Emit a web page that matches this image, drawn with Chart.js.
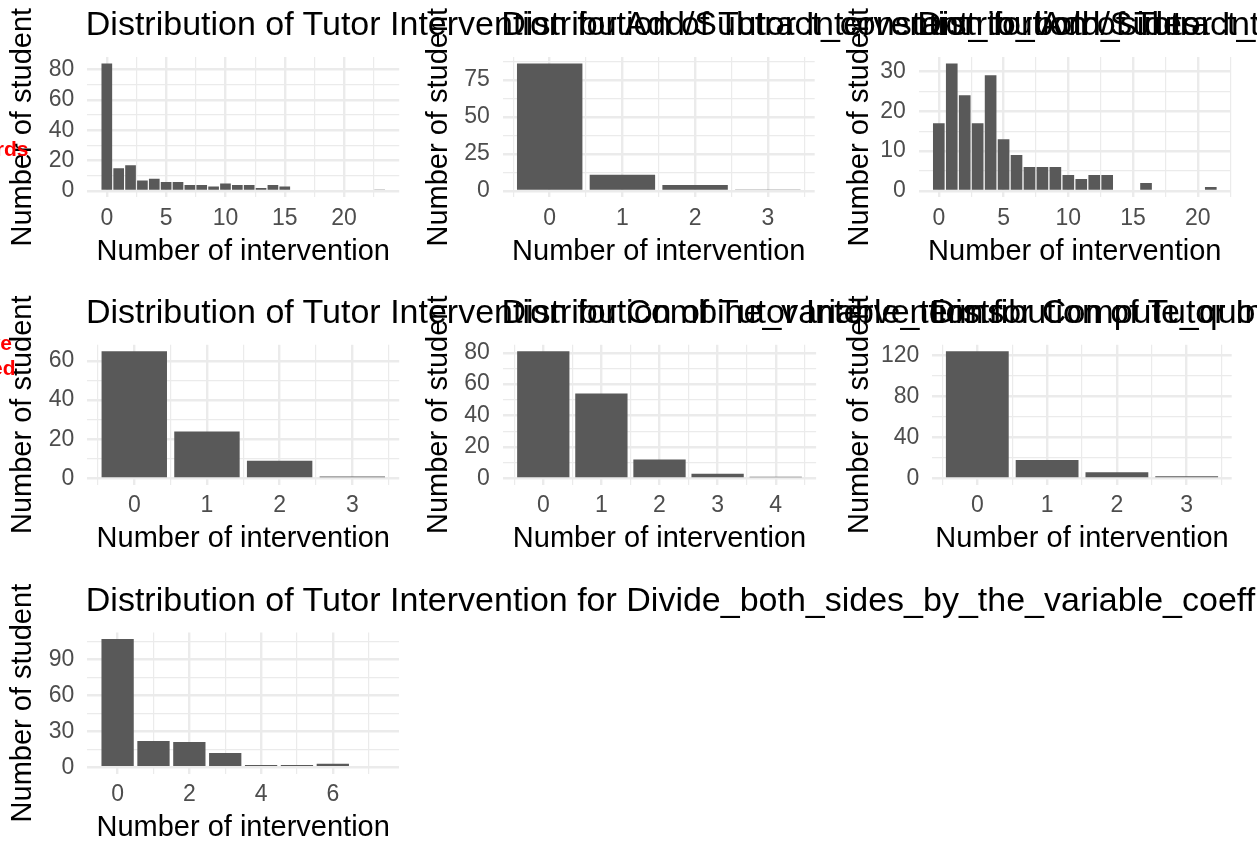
<!DOCTYPE html>
<html>
<head>
<meta charset="utf-8">
<script src="https://cdn.jsdelivr.net/npm/chart.js@4.4.0/dist/chart.umd.min.js"></script>
<style>
html,body{margin:0;padding:0;background:#fff;}
body{width:1257px;height:841px;position:relative;overflow:hidden;font-family:"Liberation Sans",Arial,sans-serif;}
canvas{position:absolute;}
.ttl{position:absolute;font-size:34px;line-height:34px;white-space:nowrap;color:#000;}
.tag{position:absolute;font-size:21px;line-height:26px;font-weight:bold;color:#f00;white-space:pre;text-align:right;}
</style>
</head>
<body>
<script>
// skill shown in each panel title
const skillNames = [
  "Add/Subtract_constant_to_both_sides",
  "Add/Subtract_variable_to_both_sides",
  "Apply_distributive_property",
  "Combine_variable_terms",
  "Compute_quotient",
  "Compute_sum",
  "Divide_both_sides_by_the_variable_coefficient"
];

// number of interventions (x) and number of students (y) per panel
const bins1 = [0,1,2,3,4,5,6,7,8,9,10,11,12,13,14,15,16,17,18,19,20,21,22,23];
const counts1 = [84,15,17,7,8,6,6,4,4,3,5,4,4,2,4,3,0,0,0,0,0,0,0,1];
const xTicks1 = [0,5,10,15,20];
const yTicks1 = [0,20,40,60,80];

const bins2 = [0,1,2,3];
const counts2 = [86,11,4,1];
const xTicks2 = [0,1,2,3];
const yTicks2 = [0,25,50,75];

const bins3 = [0,1,2,3,4,5,6,7,8,9,10,11,12,13,14,15,16,17,18,19,20,21];
const counts3 = [17,32,24,17,29,13,9,6,6,6,4,3,4,4,0,0,2,0,0,0,0,1];
const xTicks3 = [0,5,10,15,20];
const yTicks3 = [0,10,20,30];

const bins4 = [0,1,2,3];
const counts4 = [65,24,9,1];
const xTicks4 = [0,1,2,3];
const yTicks4 = [0,20,40,60];

const bins5 = [0,1,2,3,4];
const counts5 = [81,54,12,3,1];
const xTicks5 = [0,1,2,3,4];
const yTicks5 = [0,20,40,60,80];

const bins6 = [0,1,2,3];
const counts6 = [124,18,6,2];
const xTicks6 = [0,1,2,3];
const yTicks6 = [0,40,80,120];

const bins7 = [0,1,2,3,4,5,6,7];
const counts7 = [107,22,21,12,2,2,3,1];
const xTicks7 = [0,2,4,6];
const yTicks7 = [0,30,60,90];

// red row tags, clipped at the left edge
const rowTags = ["keywords", "Positive", "Signed"];

const panels = [
  {bins:bins1, counts:counts1, xt:xTicks1, yt:yTicks1},
  {bins:bins2, counts:counts2, xt:xTicks2, yt:yTicks2},
  {bins:bins3, counts:counts3, xt:xTicks3, yt:yTicks3},
  {bins:bins4, counts:counts4, xt:xTicks4, yt:yTicks4},
  {bins:bins5, counts:counts5, xt:xTicks5, yt:yTicks5},
  {bins:bins6, counts:counts6, xt:xTicks6, yt:yTicks6},
  {bins:bins7, counts:counts7, xt:xTicks7, yt:yTicks7}
];

// page geometry: plot rectangle [l,t,r,b] and x of the y title centre
const frames = [
  {plot:[87.3,57,399.2,197.4], ytx:23.3},
  {plot:[502.8,57,814.7,197.4], ytx:439},
  {plot:[918.8,57,1230.8,197.4], ytx:860.3},
  {plot:[87.4,344.8,399.2,484.7], ytx:23.3},
  {plot:[502.9,344.8,816.1,484.7], ytx:439},
  {plot:[932.3,344.8,1231.7,484.7], ytx:860.3},
  {plot:[87.3,632.5,399,773.7], ytx:23.3}
];

Chart.defaults.font.family = '"Liberation Sans", Arial, sans-serif';
Chart.defaults.animation = false;

const BAR = 0.9;       // geom_bar width
const GRID = "#EBEBEB";

function expand(lo, hi){
  const p = (hi - lo) * 0.05;
  return [lo - p, hi + p];
}

function minorOf(major, min, max){
  const d = major[1] - major[0];
  const m = major.map(v => v - d/2);
  m.push(major[major.length-1] + d/2);
  return m.filter(v => v > min && v < max);
}

function majorScale(major, min, max, pos, extra){
  return Object.assign({
    type:"linear", position:pos, min, max, bounds:"data", offset:false,
    afterBuildTicks: s => { s.ticks = major.map(v => ({value:v})); },
    ticks:{autoSkip:false, maxRotation:0, color:"#4D4D4D", font:{size:23}, padding:pos === "left" ? 13 : 7},
    grid:{offset:false, drawTicks:false, color:GRID, lineWidth:2.4},
    border:{display:false}
  }, extra);
}

function minorScale(major, min, max, pos){
  const minor = minorOf(major, min, max);
  const horiz = pos === "bottom";
  return {
    type:"linear", position:pos, min, max, bounds:"data", offset:false,
    afterBuildTicks: s => { s.ticks = minor.map(v => ({value:v})); },
    afterFit: s => { if(horiz) s.height = 0; else s.width = 0; },
    ticks:{display:false},
    grid:{offset:false, drawTicks:false, color:GRID, lineWidth:1.2},
    border:{display:false}
  };
}

function addDiv(cls, text, css){
  const d = document.createElement("div");
  d.className = cls;
  d.textContent = text;
  Object.assign(d.style, css);
  document.body.appendChild(d);
}

panels.forEach((p, i) => {
  const f = frames[i];
  const [pl, pt, pr, pb] = f.plot;
  const [xmin, xmax] = expand(p.bins[0] - BAR/2, p.bins[p.bins.length-1] + BAR/2);
  const [ymin, ymax] = expand(0, Math.max(...p.counts));

  const cx = Math.round(f.ytx - 16);
  const cy = Math.round(pt - 55);
  const ch = Math.ceil(pb + 82.6 - cy);
  const cw = Math.ceil(pr - cx + 8);
  const yw = pl - cx;
  const xh = ch - (pb - cy);
  const xTitleOff = (cy + ch) - (pb + 54.5);

  const cv = document.createElement("canvas");
  cv.width = cw; cv.height = ch;
  cv.style.left = cx + "px"; cv.style.top = cy + "px";
  document.body.appendChild(cv);

  new Chart(cv, {
    type:"bar",
    data:{datasets:[{
      data:p.bins.map((b, k) => ({x:b, y:p.counts[k]})),
      backgroundColor:"#595959", borderWidth:0,
      barPercentage:BAR, categoryPercentage:1,
      xAxisID:"x", yAxisID:"y"
    }]},
    options:{
      responsive:false, devicePixelRatio:1,
      layout:{padding:{left:0, top:pt - cy, right:cw - (pr - cx), bottom:0}},
      plugins:{legend:{display:false}, tooltip:{enabled:false}},
      scales:{
        x: majorScale(p.xt, xmin, xmax, "bottom", {
          afterFit: s => { s.height = xh; },
          title:{display:true, text:"Number of intervention", color:"#000",
                 font:{size:29, lineHeight:1}, padding:{top:0, bottom:xTitleOff - 14.5}}
        }),
        xm: minorScale(p.xt, xmin, xmax, "bottom"),
        y: majorScale(p.yt, ymin, ymax, "left", {
          afterFit: s => { s.width = yw; },
          title:{display:true, text:"Number of student", color:"#000",
                 font:{size:29, lineHeight:1}, padding:{top:f.ytx - cx - 14.5, bottom:0}}
        }),
        ym: minorScale(p.yt, ymin, ymax, "left")
      }
    }
  });

  addDiv("ttl", "Distribution of Tutor Intervention for " + skillNames[i],
         {left:(pl - 1.5) + "px", top:(pt - 22 - 28.8) + "px"});
});

// bold 21px on a 26px line: baseline sits 20.5px below the line top
addDiv("tag", rowTags[0], {right:(1257 - 28.5) + "px", top:(156 - 20.5) + "px"});
addDiv("tag", rowTags[1], {right:(1257 - 12) + "px", top:(350 - 20.5) + "px"});
addDiv("tag", rowTags[2], {right:(1257 - 15.5) + "px", top:(375 - 20.5) + "px"});
</script>
</body>
</html>
